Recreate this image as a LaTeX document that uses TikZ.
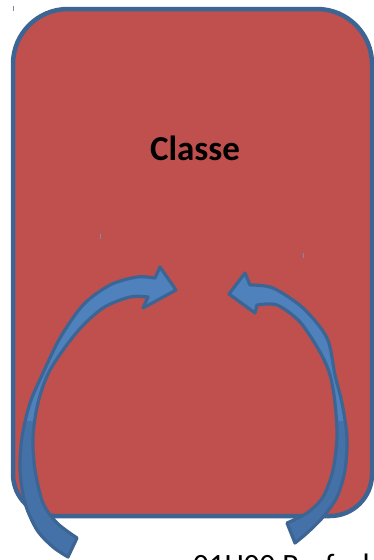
\documentclass[tikz,border=0pt]{standalone}
\usepackage{fontspec}
\setmainfont{Carlito}
\definecolor{boxred}{HTML}{C0504D}
\definecolor{edgeblue}{HTML}{3D6594}
\definecolor{frontblue}{HTML}{4F81BD}
\definecolor{backblue}{HTML}{4571A9}
\definecolor{tickgrey}{HTML}{7A8CA8}
\tikzset{
  classbox/.style={fill=boxred, draw=edgeblue, line width=4.5pt},
  arrowband/.style={draw=edgeblue, line width=3.2pt, line join=round},
  tickmark/.style={tickgrey, line width=0.8pt}
}
% outlines of the two bent arrows, in pixel coordinates
\newcommand{\leftbend}{(68,557) -- (77,538) -- plot[smooth] coordinates {(77,538) (57,523) (43,503) (35,470) (33,437) (38,403) (50,370) (77,332) (103,308) (130,297) (148,297)} -- (143,308) -- (176,290) -- (160,267) -- (155,278) -- plot[smooth] coordinates {(155,278) (137,277) (110,285) (83,305) (60,338) (43,373) (30,403) (22,437) (20,470) (25,503) (37,530) (53,547) (68,557)} -- cycle}
\newcommand{\rightbend}{(295,543) -- (287,523) -- plot[smooth] coordinates {(287,523) (307,513) (323,497) (333,470) (337,437) (335,403) (330,375) (320,352) (300,322) (277,305) (257,305)} -- (255,313) -- (229,294) -- (245,273) -- (250,285) -- plot[smooth] coordinates {(250,285) (273,288) (303,308) (327,338) (335,375) (342,403) (347,437) (345,470) (337,497) (323,517) (307,533) (295,543)} -- cycle}
\begin{document}
\begin{tikzpicture}[x=1pt, y=-1pt]
    \clip (0,0) rectangle (374,560);
    % the class
    \path[classbox] (13,300) [rounded corners=55pt] |- (200,9)
        [rounded corners=55pt] -| (372,300)
        [rounded corners=42pt] |- (200,516) -| (13,300) -- cycle;
    \node[font=\fontsize{35}{40}\selectfont\bfseries, anchor=base] (title) at (195,160) {Classe};
    % stray marks
    \draw[tickmark] (13,6) -- (13,11);
    \draw[tickmark] (100,234) -- (100,239);
    \draw[tickmark] (303,253) -- (303,258);
    % the two arrows
    \fill[backblue] \leftbend;
    \fill[backblue] \rightbend;
    \begin{scope}
        \clip (0,0) rectangle (374,420);
        \fill[frontblue] \leftbend;
        \fill[frontblue] \rightbend;
    \end{scope}
    \draw[arrowband] \leftbend;
    \draw[arrowband] \rightbend;
    % caption, cut by the page edge
    \node[font=\fontsize{31}{36}\selectfont, anchor=base west, inner sep=0pt] (stamp) at (193,575) {01H00 Prof. classe};
\end{tikzpicture}
\end{document}
